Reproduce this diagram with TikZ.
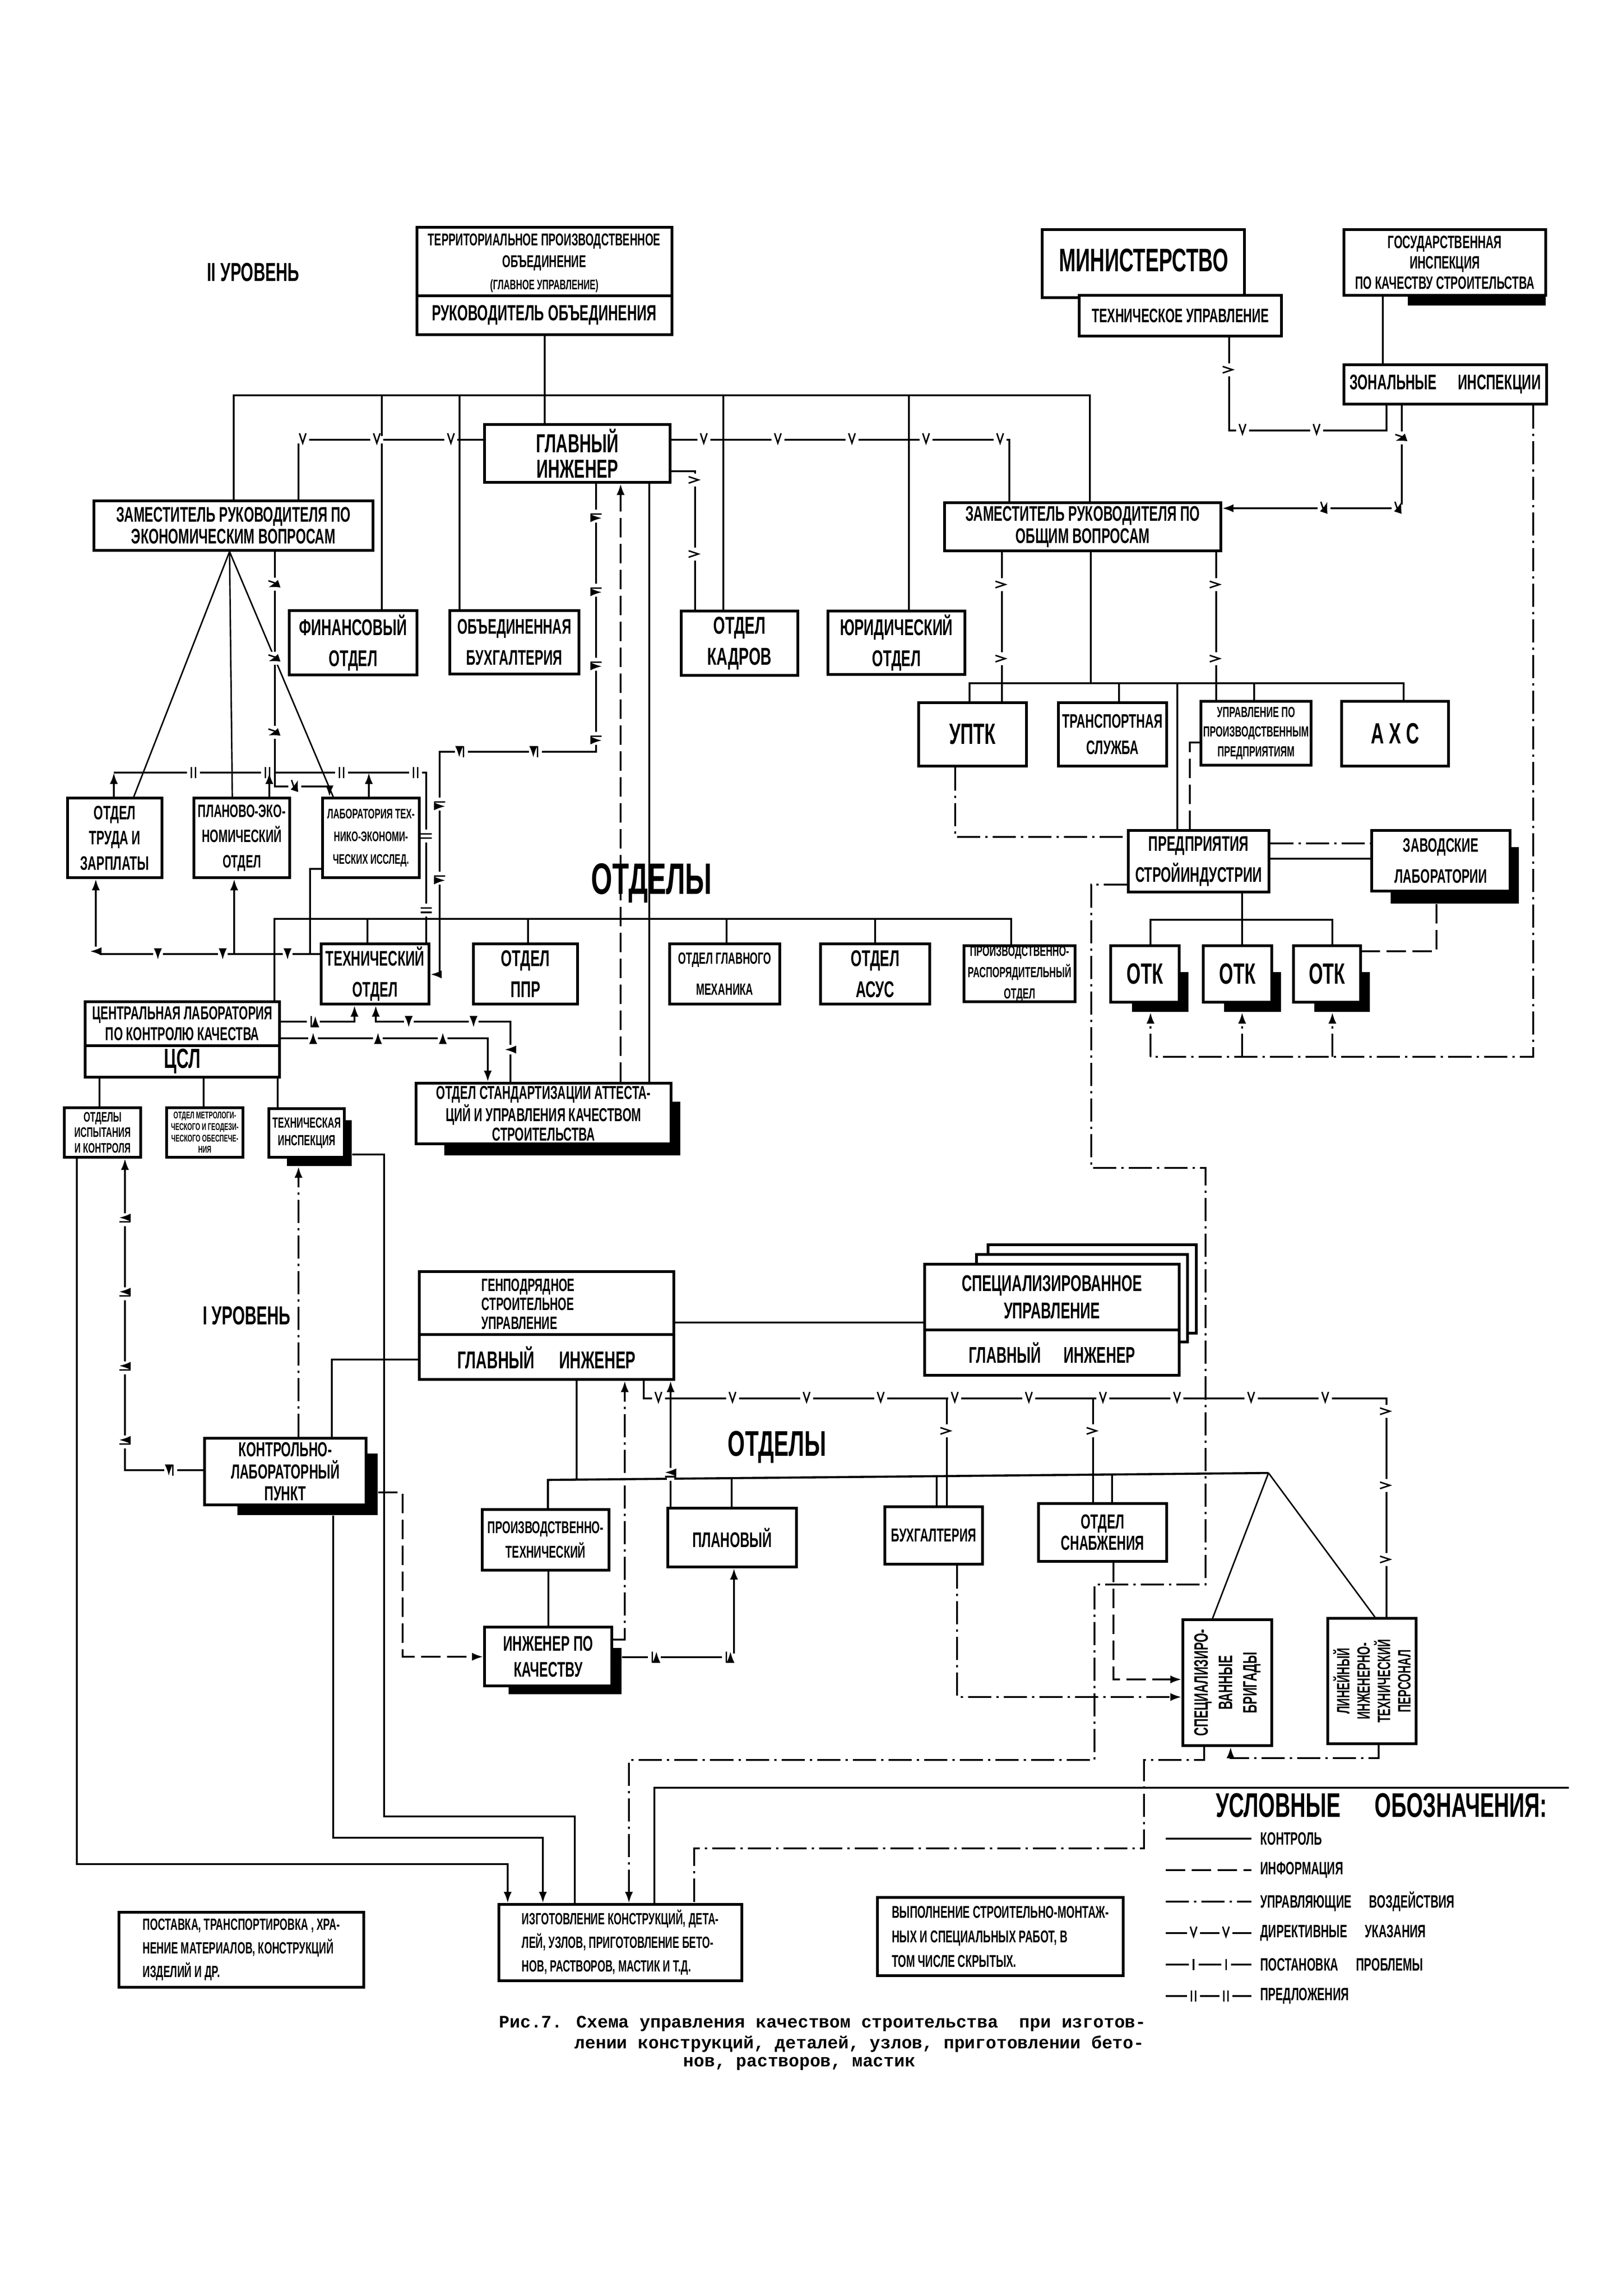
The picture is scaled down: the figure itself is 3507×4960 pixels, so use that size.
\documentclass[tikz,border=0pt]{standalone}
\usepackage{fontspec}
\setmainfont{Liberation Sans}
\newfontfamily\hand[FakeStretch=0.62]{Liberation Sans}
\newfontfamily\monofnt{Liberation Mono}
\usetikzlibrary{arrows.meta,decorations.markings,fit}
\newcommand\fs[2]{\hand\bfseries\fontsize{#1}{#2}\selectfont}
% marks drawn upright in page orientation: "v" on horizontal lines, ">" on vertical lines
\newcommand\mkorient{%
  \pgfgettransformentries{\mka}{\mkb}{\mkc}{\mkd}{\mkx}{\mky}%
  \pgftransformresetnontranslations
  \def\mkh{0}%
  \ifdim\mka pt>0.5pt \def\mkh{1}\fi
  \ifdim\mka pt<-0.5pt \def\mkh{1}\fi}
\newcommand\mkv{\mkorient
  \ifnum\mkh=1
    \fill[white] (-4pt,-2.2pt) rectangle (4pt,2.2pt);
    \draw[solid,line width=0.9pt] (-2pt,4pt) -- (0pt,-2pt) -- (2pt,4pt);
  \else
    \fill[white] (-2.2pt,-4pt) rectangle (2.2pt,4pt);
    \draw[solid,line width=0.9pt] (-4pt,2pt) -- (2pt,0pt) -- (-4pt,-2pt);
  \fi}
\newcommand\mki{\fill[white] (-3pt,-2.2pt) rectangle (3pt,2.2pt); \draw[solid,line width=0.9pt] (0pt,-3.5pt) -- (0pt,3.5pt);}
\newcommand\mkii{\fill[white] (-4pt,-2.2pt) rectangle (4pt,2.2pt); \draw[solid,line width=0.9pt] (-1.3pt,-3.5pt) -- (-1.3pt,3.5pt) (1.3pt,-3.5pt) -- (1.3pt,3.5pt);}
\tikzset{
  bx/.style={draw, line width=1.5pt, fill=white, inner sep=0pt},
  shd/.style={fill=black, draw=none, inner sep=0pt},
  lbl/.style={inner sep=0pt, align=center},
  ln/.style={line width=1.3pt},
  thinln/.style={line width=0.9pt},
  info/.style={ln, dash pattern=on 0.42cm off 0.14cm},
  upr/.style={ln, dash pattern=on 0.5cm off 0.11cm on 0.05cm off 0.11cm},
  dir/.style={ln, postaction={decorate, decoration={markings, mark=between positions 0.7cm and -0.7cm step 1.6cm with {\mkv}}}},
  prob/.style={ln, postaction={decorate, decoration={markings, mark=between positions 0.7cm and -0.7cm step 1.4cm with {\mki}}}},
  pred/.style={ln, postaction={decorate, decoration={markings, mark=between positions 0.7cm and -0.7cm step 1.6cm with {\mkii}}}},
  dirL/.style={ln, postaction={decorate, decoration={markings, mark=at position 0.6cm with {\mkv}, mark=at position 1.3cm with {\mkv}}}},
  probL/.style={ln, postaction={decorate, decoration={markings, mark=at position 0.6cm with {\mki}, mark=at position 1.3cm with {\mki}}}},
  predL/.style={ln, postaction={decorate, decoration={markings, mark=at position 0.6cm with {\mkii}, mark=at position 1.3cm with {\mkii}}}},
  arr/.style={-{Latex[length=7pt,width=5pt]}},
}
% box with centred text: [text options]{name}{fit points}{font}{text}
\newcommand\bxt[5][]{\node[bx, fit={#3}] (#2) {}; \node[lbl, font=#4, #1] (#2t) at (#2.center) {#5};}
\begin{document}
\begin{tikzpicture}[x=0.01cm,y=-0.01cm]
\useasboundingbox (0,0) rectangle (3507,4960);

% ---------- level II, top ----------
\node[lbl, font=\fs{16}{18}] (lvl2) at (547,588) {II УРОВЕНЬ};
\node[bx, fit={(901,491)(1452,723)}] (top) {};
\draw[line width=1.5pt] (top.west |- 0,639) -- (top.east |- 0,639);
\node[lbl, font=\fs{10.5}{13.5}] (topa) at (1176,568) {ТЕРРИТОРИАЛЬНОЕ ПРОИЗВОДСТВЕННОЕ\\ОБЪЕДИНЕНИЕ\\{\fs{8.5}{10}(ГЛАВНОЕ УПРАВЛЕНИЕ)}};
\node[lbl, font=\fs{13.5}{16}] (topb) at (1176,681) {РУКОВОДИТЕЛЬ ОБЪЕДИНЕНИЯ};

\node[bx, fit={(2252,496)(2689,643)}] (min) {};
\node[lbl, font=\fs{20}{22}] (mint) at (2471,562) {МИНИСТЕРСТВО};
\bxt{techu}{(2332,638)(2769,726)}{\fs{12}{14}}{ТЕХНИЧЕСКОЕ УПРАВЛЕНИЕ}

\node[shd, fit={(3042,620)(3340,660)}] (gosis) {};
\bxt{gosi}{(2904,496)(3340,638)}{\fs{11}{12.5}}{ГОСУДАРСТВЕННАЯ\\ИНСПЕКЦИЯ\\ПО КАЧЕСТВУ СТРОИТЕЛЬСТВА}
\bxt{zon}{(2904,788)(3342,873)}{\fs{13}{15}}{ЗОНАЛЬНЫЕ\quad ИНСПЕКЦИИ}

\bxt{gi}{(1047,917)(1448,1042)}{\fs{16}{15.5}}{ГЛАВНЫЙ\\ИНЖЕНЕР}
\bxt{zek}{(203,1082)(806,1189)}{\fs{13}{13.5}}{ЗАМЕСТИТЕЛЬ РУКОВОДИТЕЛЯ ПО\\ЭКОНОМИЧЕСКИМ ВОПРОСАМ}
\bxt{zob}{(2041,1086)(2638,1190)}{\fs{13}{13.5}}{ЗАМЕСТИТЕЛЬ РУКОВОДИТЕЛЯ ПО\\ОБЩИМ ВОПРОСАМ}

\bxt{fin}{(625,1319)(901,1458)}{\fs{14}{19}}{ФИНАНСОВЫЙ\\ОТДЕЛ}
\bxt{buh}{(972,1319)(1251,1456)}{\fs{13}{19}}{ОБЪЕДИНЕННАЯ\\БУХГАЛТЕРИЯ}
\bxt{kadr}{(1472,1320)(1724,1459)}{\fs{15}{19}}{ОТДЕЛ\\КАДРОВ}
\bxt{yur}{(1789,1320)(2085,1457)}{\fs{14}{19}}{ЮРИДИЧЕСКИЙ\\ОТДЕЛ}

\bxt{uptk}{(1985,1518)(2218,1655)}{\fs{18}{20}}{УПТК}
\bxt{trans}{(2287,1518)(2521,1655)}{\fs{12}{16}}{ТРАНСПОРТНАЯ\\СЛУЖБА}
\bxt{upp}{(2595,1515)(2833,1653)}{\fs{9}{12}}{УПРАВЛЕНИЕ ПО\\ПРОИЗВОДСТВЕННЫМ\\ПРЕДПРИЯТИЯМ}
\bxt{axs}{(2899,1515)(3130,1655)}{\fs{18}{20}}{А Х С}

\bxt{otr}{(146,1724)(350,1896)}{\fs{12}{15.5}}{ОТДЕЛ\\ТРУДА И\\ЗАРПЛАТЫ}
\bxt{plek}{(419,1724)(626,1896)}{\fs{11}{15.5}}{ПЛАНОВО-ЭКО-\\НОМИЧЕСКИЙ\\ОТДЕЛ}
\bxt{lab}{(697,1724)(906,1896)}{\fs{8.5}{14}}{ЛАБОРАТОРИЯ ТЕХ-\\НИКО-ЭКОНОМИ-\\ЧЕСКИХ ИССЛЕД.}
\node[lbl, font=\fs{27}{30}] (otd1) at (1408,1908) {ОТДЕЛЫ};

\bxt{pred}{(2438,1794)(2742,1927)}{\fs{13}{19}}{ПРЕДПРИЯТИЯ\\СТРОЙИНДУСТРИИ}
\node[shd, fit={(3005,1830)(3282,1952)}] (zavs) {};
\bxt{zav}{(2964,1794)(3263,1925)}{\fs{12}{19}}{ЗАВОДСКИЕ\\ЛАБОРАТОРИИ}

\bxt{tech}{(694,2039)(927,2169)}{\fs{13}{19}}{ТЕХНИЧЕСКИЙ\\ОТДЕЛ}
\bxt{ppr}{(1023,2039)(1248,2169)}{\fs{14}{19}}{ОТДЕЛ\\ППР}
\bxt{meh}{(1447,2039)(1685,2169)}{\fs{10}{19}}{ОТДЕЛ ГЛАВНОГО\\МЕХАНИКА}
\bxt{asus}{(1773,2039)(2009,2169)}{\fs{14}{19}}{ОТДЕЛ\\АСУС}
\bxt{prd}{(2083,2043)(2323,2164)}{\fs{9}{13}}{ПРОИЗВОДСТВЕННО-\\РАСПОРЯДИТЕЛЬНЫЙ\\ОТДЕЛ}

\node[shd, fit={(2446,2100)(2568,2186)}] (otk1s) {};
\node[shd, fit={(2645,2100)(2768,2186)}] (otk2s) {};
\node[shd, fit={(2840,2100)(2960,2186)}] (otk3s) {};
\bxt{otk1}{(2400,2043)(2548,2165)}{\fs{18}{20}}{ОТК}
\bxt{otk2}{(2600,2043)(2748,2165)}{\fs{18}{20}}{ОТК}
\bxt{otk3}{(2795,2043)(2940,2165)}{\fs{18}{20}}{ОТК}

\node[bx, fit={(184,2164)(604,2327)}] (csl) {};
\draw[line width=1.5pt] (csl.west |- 0,2259) -- (csl.east |- 0,2259);
\node[lbl, font=\fs{11.5}{13}] (csla) at (394,2211) {ЦЕНТРАЛЬНАЯ ЛАБОРАТОРИЯ\\ПО КОНТРОЛЮ КАЧЕСТВА};
\node[lbl, font=\fs{17}{19}] (cslb) at (394,2293) {ЦСЛ};

\node[shd, fit={(960,2380)(1470,2496)}] (osas) {};
\bxt{osa}{(899,2340)(1450,2471)}{\fs{11.5}{12}}{ОТДЕЛ СТАНДАРТИЗАЦИИ АТТЕСТА-\\ЦИЙ И УПРАВЛЕНИЯ КАЧЕСТВОМ\\СТРОИТЕЛЬСТВА}

\bxt{isp}{(139,2393)(304,2500)}{\fs{8.5}{9.5}}{ОТДЕЛЫ\\ИСПЫТАНИЯ\\И КОНТРОЛЯ}
\bxt{met}{(360,2393)(525,2500)}{\fs{6}{7}}{ОТДЕЛ МЕТРОЛОГИ-\\ЧЕСКОГО И ГЕОДЕЗИ-\\ЧЕСКОГО ОБЕСПЕЧЕ-\\НИЯ}
\node[shd, fit={(620,2420)(760,2519)}] (tins) {};
\bxt{tin}{(581,2395)(744,2500)}{\fs{9}{11}}{ТЕХНИЧЕСКАЯ\\ИНСПЕКЦИЯ}

% ---------- level I ----------
\node[lbl, font=\fs{16}{18}] (lvl1) at (533,2842) {I УРОВЕНЬ};
\node[bx, fit={(906,2747)(1456,2980)}] (gsu) {};
\draw[line width=1.5pt] (gsu.west |- 0,2883) -- (gsu.east |- 0,2883);
\node[lbl, align=left, anchor=west, font=\fs{11}{11.7}] (gsua) at (1040,2817) {ГЕНПОДРЯДНОЕ\\СТРОИТЕЛЬНОЕ\\УПРАВЛЕНИЕ};
\node[lbl, font=\fs{15}{17}] (gsub) at (1181,2933) {ГЛАВНЫЙ\quad ИНЖЕНЕР};

\node[bx, fit={(2135,2689)(2585,2880)}] (spu3) {};
\node[bx, fit={(2110,2710)(2566,2899)}] (spu2) {};
\node[bx, fit={(1998,2731)(2548,2971)}] (spu) {};
\draw[line width=1.5pt] (spu.west |- 0,2873) -- (spu.east |- 0,2873);
\node[lbl, font=\fs{14}{17}] (spua) at (2273,2802) {СПЕЦИАЛИЗИРОВАННОЕ\\УПРАВЛЕНИЕ};
\node[lbl, font=\fs{14}{16}] (spub) at (2273,2922) {ГЛАВНЫЙ\quad ИНЖЕНЕР};

\node[lbl, font=\fs{22}{24}] (otd2) at (1679,3126) {ОТДЕЛЫ};

\node[shd, fit={(513,3140)(816,3273)}] (klps) {};
\bxt{klp}{(442,3107)(791,3251)}{\fs{12.5}{13.5}}{КОНТРОЛЬНО-\\ЛАБОРАТОРНЫЙ\\ПУНКТ}

\bxt{prt}{(1042,3261)(1316,3392)}{\fs{10.5}{15}}{ПРОИЗВОДСТВЕННО-\\ТЕХНИЧЕСКИЙ}
\bxt{plan}{(1443,3258)(1721,3385)}{\fs{13}{15}}{ПЛАНОВЫЙ}
\bxt{bux2}{(1912,3255)(2123,3379)}{\fs{11.5}{13}}{БУХГАЛТЕРИЯ}
\bxt{snab}{(2244,3248)(2521,3373)}{\fs{12.5}{13}}{ОТДЕЛ\\СНАБЖЕНИЯ}

\bxt[rotate=90]{spb}{(2556,3499)(2748,3771)}{\fs{12}{15}}{СПЕЦИАЛИЗИРО-\\ВАННЫЕ\\БРИГАДЫ}
\bxt[rotate=90]{litp}{(2869,3496)(3060,3767)}{\fs{11}{12.5}}{ЛИНЕЙНЫЙ\\ИНЖЕНЕРНО-\\ТЕХНИЧЕСКИЙ\\ПЕРСОНАЛ}

\node[shd, fit={(1099,3560)(1343,3660)}] (inks) {};
\bxt{ink}{(1047,3515)(1322,3642)}{\fs{13}{16}}{ИНЖЕНЕР ПО\\КАЧЕСТВУ}

\bxt[align=left]{post}{(257,4131)(786,4293)}{\fs{10}{14.5}}{ПОСТАВКА, ТРАНСПОРТИРОВКА , ХРА-\\НЕНИЕ МАТЕРИАЛОВ, КОНСТРУКЦИЙ\\ИЗДЕЛИЙ И ДР.}
\bxt[align=left]{izg}{(1078,4114)(1603,4279)}{\fs{10}{14.5}}{ИЗГОТОВЛЕНИЕ КОНСТРУКЦИЙ, ДЕТА-\\ЛЕЙ, УЗЛОВ, ПРИГОТОВЛЕНИЕ БЕТО-\\НОВ, РАСТВОРОВ, МАСТИК И Т.Д.}
\bxt[align=left]{vyp}{(1896,4099)(2427,4268)}{\fs{10.5}{15}}{ВЫПОЛНЕНИЕ СТРОИТЕЛЬНО-МОНТАЖ-\\НЫХ И СПЕЦИАЛЬНЫХ РАБОТ, В\\ТОМ ЧИСЛЕ СКРЫТЫХ.}

% ---------- connectors: top ----------
\draw[ln] (top.south -| 1177,0) -- (gi.north -| 1177,0);
\draw[ln] (zek.north -| 505,0) -- (505,854) -- (2355,854) -- (zob.north -| 2355,0);
\draw[ln] (825,854) -- (fin.north -| 825,0);
\draw[ln] (993,854) -- (buh.north -| 993,0);
\draw[ln] (1563,854) -- (kadr.north -| 1563,0);
\draw[ln] (1964,854) -- (yur.north -| 1964,0);
\draw[dir] (gi.west |- 0,950) -| (zek.north -| 645,0);
\draw[dir] (gi.east |- 0,950) -| (zob.north -| 2181,0);
\draw[dir] (gi.east |- 0,1018) -| (kadr.north -| 1502,0);
\draw[pred,arr] (gi.south -| 1288,0) |- (950,1624) |- (tech.east |- 0,2105);
\draw[info,arr] (osa.north -| 1341,0) -- (gi.south -| 1341,0);
\draw[ln] (gi.south -| 1403,0) -- (osa.north -| 1403,0);
\draw[ln] (csl.north -| 593,0) -- (593,1985) -- (2185,1985) -- (prd.north -| 2185,0);
\draw[ln] (794,1985) -- (tech.north -| 794,0);
\draw[ln] (1141,1985) -- (ppr.north -| 1141,0);
\draw[ln] (1570,1985) -- (meh.north -| 1570,0);
\draw[ln] (1891,1985) -- (asus.north -| 1891,0);

\draw[dir] (zob.south -| 2165,0) -- (uptk.north -| 2165,0);
\draw[ln] (zob.south -| 2357,0) -- (2357,1476);
\draw[ln] (uptk.north -| 2095,0) -- (2095,1476) -- (3033,1476) -- (axs.north -| 3033,0);
\draw[ln] (2418,1476) -- (trans.north -| 2418,0);
\draw[ln] (2710,1476) -- (upp.north -| 2710,0);
\draw[ln] (2544,1476) -- (pred.north -| 2544,0);
\draw[dir] (zob.south -| 2628,0) -- (upp.north -| 2628,0);
\draw[dir,arr] (zon.south -| 3029,0) |- (zob.east |- 0,1098);
\draw[dir] (techu.south -| 2656,0) |- (2996,930) -- (zon.south -| 2996,0);
\draw[ln] (gosi.south -| 2988,0) -- (zon.north -| 2988,0);
\draw[upr] (zon.south -| 3313,0) |- (2486,2283);
\draw[upr,arr] (2486,2283) -- (otk1s.south -| 2486,0);
\draw[upr,arr] (2684,2283) -- (otk2s.south -| 2684,0);
\draw[upr,arr] (2879,2283) -- (otk3s.south -| 2879,0);
\draw[upr] (uptk.south -| 2064,0) |- (pred.west |- 0,1808);
\draw[info] (upp.west |- 0,1604) -| (pred.north -| 2571,0);
\draw[upr] (pred.east |- 0,1822) -- (zav.west |- 0,1822);
\draw[ln] (pred.east |- 0,1855) -- (zav.west |- 0,1855);
\draw[ln] (pred.south -| 2684,0) -- (2684,1987);
\draw[ln] (otk1.north -| 2486,0) -- (2486,1987) -- (2879,1987) -- (otk3.north -| 2879,0);
\draw[ln] (2684,1987) -- (otk2.north -| 2684,0);
\draw[info] (zavs.south -| 3104,0) |- (otk3.east |- 0,2055);
\draw[upr,arr] (pred.west |- 0,1911) -| (2358,2523) -| (2605,3423) -| (2365,3802) -| (izg.north -| 1359,0);

% ---------- connectors: left middle ----------
\draw[thinln] (zek.south -| 496,0) -- (otr.north -| 289,0);
\draw[thinln] (zek.south -| 496,0) -- (plek.north -| 502,0);
\draw[thinln] (zek.south -| 496,0) -- (lab.north -| 720,0);
\draw[dir,arr] (zek.south -| 594,0) |- (712,1699) -- (lab.north -| 712,0);
\draw[pred] (tech.north -| 921,0) |- (246,1669);
\draw[ln,arr] (otr.north -| 246,0) -- (246,1669);
\draw[ln,arr] (plek.north -| 582,0) -- (582,1669);
\draw[ln,arr] (lab.north -| 797,0) -- (797,1669);
\draw[prob,arr] (tech.west |- 0,2061) -| (otr.south -| 207,0);
\draw[ln,arr] (506,2061) -- (plek.south -| 506,0);
\draw[ln] (670,2061) |- (lab.west |- 0,1877);
\draw[pred,arr] (csl.east |- 0,2207) -| (tech.south -| 766,0);
\draw[prob,arr] (osa.north -| 1103,0) |- (812,2207) -- (tech.south -| 812,0);
\draw[prob,arr] (csl.east |- 0,2243) -| (osa.north -| 1054,0);
\draw[ln] (csl.south -| 215,0) -- (isp.north -| 215,0);
\draw[ln] (csl.south -| 440,0) -- (met.north -| 440,0);
\draw[ln] (csl.south -| 600,0) -- (tin.north -| 600,0);
\draw[ln,arr] (isp.south -| 166,0) |- (1097,4027) -- (izg.north -| 1097,0);
\draw[pred,arr] (klp.west |- 0,3176) -| (isp.south -| 270,0);
\draw[upr,arr] (klp.north -| 645,0) -- (tins.south -| 645,0);
\draw[ln] (tins.east |- 0,2494) -| (830,3924) -| (izg.north -| 1242,0);
\draw[ln] (gsu.west |- 0,2937) -| (klp.north -| 717,0);
\draw[ln,arr] (klps.south -| 720,0) |- (1173,3970) -- (izg.north -| 1173,0);
\draw[info,arr] (klps.east |- 0,3224) -| (870,3579) -- (ink.west |- 0,3579);

% ---------- connectors: lower ----------
\draw[ln] (gsu.east |- 0,2857) -- (spu.west |- 0,2857);
\draw[ln] (gsu.south -| 1246,0) -- (1246,3196);
\draw[ln] (prt.north -| 1184,0) -- (1184,3197) -- (2741,3182);
\draw[ln] (1581,3193) -- (plan.north -| 1581,0);
\draw[ln] (2024,3189) -- (bux2.north -| 2024,0);
\draw[ln] (2403,3185) -- (snab.north -| 2403,0);
\draw[thinln] (2741,3182) -- (spb.north -| 2620,0);
\draw[thinln] (2741,3182) -- (litp.north -| 2971,0);
\draw[dir] (gsu.south -| 1391,0) |- (2996,3021) -- (litp.north -| 2996,0);
\draw[dir] (2046,3021) -- (bux2.north -| 2046,0);
\draw[dir] (2362,3021) -- (snab.north -| 2362,0);
\draw[pred,arr] (plan.north -| 1449,0) -- (gsu.south -| 1449,0);
\draw[upr,arr] (ink.east |- 0,3542) -| (gsu.south -| 1350,0);
\draw[pred,arr] (inks.east |- 0,3580) -| (plan.south -| 1586,0);
\draw[ln] (prt.south -| 1185,0) -- (ink.north -| 1185,0);
\draw[upr,arr] (bux2.south -| 2068,0) |- (spb.west |- 0,3666);
\draw[info,arr] (snab.south -| 2406,0) |- (spb.west |- 0,3628);
\draw[upr] (spb.south -| 2602,0) |- (2472,3802) -- (2472,3993) -| (izg.north -| 1500,0);
\draw[upr,arr] (litp.south -| 2979,0) |- (2659,3798) -- (spb.south -| 2659,0);
\draw[ln] (izg.north -| 1414,0) |- (3390,3862);

% ---------- legend ----------
\node[lbl, font=\fs{21}{24}] (lgh) at (2985,3900) {УСЛОВНЫЕ\quad ОБОЗНАЧЕНИЯ:};
\draw[ln] (2519,3972) -- (2704,3972);
\node[lbl, anchor=west, font=\fs{11}{13}] (lg1) at (2723,3972) {КОНТРОЛЬ};
\draw[info] (2519,4040) -- (2704,4040);
\node[lbl, anchor=west, font=\fs{11}{13}] (lg2) at (2723,4040) {ИНФОРМАЦИЯ};
\draw[upr] (2519,4108) -- (2704,4108);
\node[lbl, anchor=west, font=\fs{11}{13}] (lg3) at (2723,4108) {УПРАВЛЯЮЩИЕ\quad ВОЗДЕЙСТВИЯ};
\draw[dirL] (2519,4176) -- (2704,4176);
\node[lbl, anchor=west, font=\fs{11}{13}] (lg4) at (2723,4176) {ДИРЕКТИВНЫЕ\quad УКАЗАНИЯ};
\draw[probL] (2519,4244) -- (2704,4244);
\node[lbl, anchor=west, font=\fs{11}{13}] (lg5) at (2723,4244) {ПОСТАНОВКА\quad ПРОБЛЕМЫ};
\draw[predL] (2519,4312) -- (2704,4312);
\node[lbl, anchor=west, font=\fs{11}{13}] (lg6) at (2723,4312) {ПРЕДЛОЖЕНИЯ};

% ---------- caption ----------
\node[lbl, anchor=west, font=\monofnt\bfseries\fontsize{10.8}{12}\selectfont] (cap1) at (1078,4372) {Рис.7. Схема управления качеством строительства~ при изготов-};
\node[lbl, anchor=west, font=\monofnt\bfseries\fontsize{10.8}{12}\selectfont] (cap2) at (1241,4415) {лении конструкций, деталей, узлов, приготовлении бето-};
\node[lbl, anchor=west, font=\monofnt\bfseries\fontsize{10.8}{12}\selectfont] (cap3) at (1476,4458) {нов, растворов, мастик};
\end{tikzpicture}
\end{document}
